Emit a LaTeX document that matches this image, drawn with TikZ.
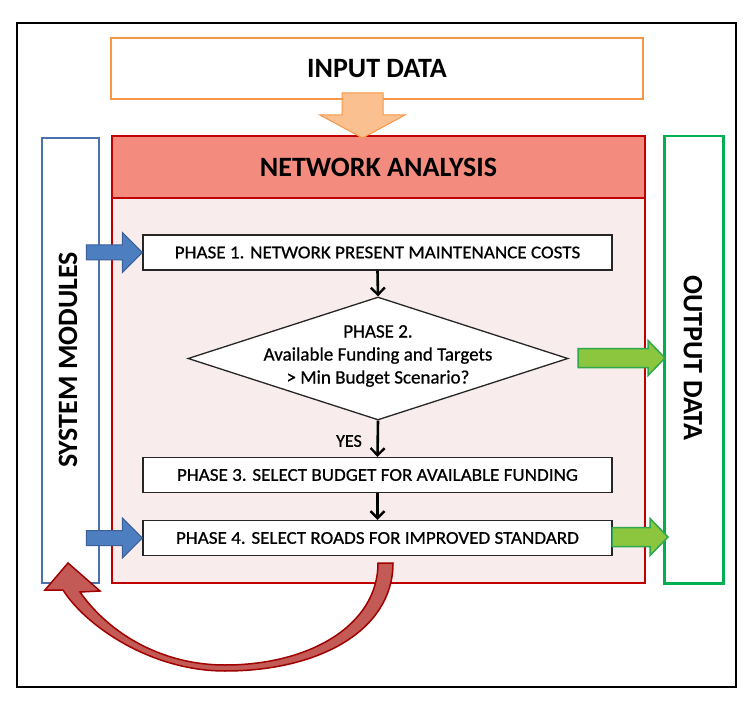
\documentclass[tikz,border=0pt]{standalone}
\usepackage{fontspec}
\setmainfont{Carlito}
\newfontface\semib{Carlito}[FakeBold=0.7]
\usetikzlibrary{shapes.geometric,arrows.meta,calc}
\definecolor{orgB}{HTML}{F79646}
\definecolor{orgF}{HTML}{FAC090}
\definecolor{redB}{HTML}{C00000}
\definecolor{redH}{HTML}{F48B7F}
\definecolor{redL}{HTML}{F8ECEC}
\definecolor{bluB}{HTML}{4A72AE}
\definecolor{bluF}{HTML}{4D7EC0}
\definecolor{bluD}{HTML}{3A5F99}
\definecolor{grnB}{HTML}{00B050}
\definecolor{grnF}{HTML}{8CC63F}
\definecolor{grnD}{HTML}{2EA84A}
\definecolor{arcF}{HTML}{C45A55}
\definecolor{arcB}{HTML}{A00000}
\newcommand\blockR[6]{\draw[#1, shift={#2}] (0,0) -- (-#4,-#6) -- (-#4,-#5) -- (-#3,-#5) -- (-#3,#5) -- (-#4,#5) -- (-#4,#6) -- cycle;}
\begin{document}
\begin{tikzpicture}[x=1pt,y=-1pt,
  phasebox/.style={draw=black!85, line width=1.3pt, fill=white, minimum width=469pt, minimum height=35pt, inner sep=0pt, font=\semib\fontsize{18}{21}\selectfont},
  headtxt/.style={font=\bfseries\fontsize{28}{32}\selectfont, inner sep=0pt},
  arr/.style={draw=black, line width=2.6pt, -{Straight Barb[length=7pt,width=14pt,line width=2.4pt]}},
  bluearrow/.style={fill=bluF, draw=bluD, line width=1pt, line join=miter},
  greenarrow/.style={fill=grnF, draw=grnD, line width=1.5pt, line join=miter},
  orangearrow/.style={fill=orgF, draw=orgB, line width=1pt, line join=miter},
  curvedarrow/.style={fill=arcF, draw=arcB, line width=1.5pt, line join=miter}
]
\useasboundingbox (0,0) rectangle (756,706);
\fill[white] (0,0) rectangle (756,706);
\draw[black, line width=1.5pt] (17,23) rectangle (736,687);

% input
\node[draw=orgB, line width=2.5pt, fill=white, minimum width=532pt, minimum height=61pt, inner sep=0pt, headtxt] (inp) at (377,68.5) {INPUT DATA};

% side boxes
\node[draw=bluB, line width=2pt, fill=white, minimum width=57pt, minimum height=445pt, inner sep=0pt, anchor=north west] (sm) at (41,137) {};
\node[headtxt, rotate=90] (smt) at (68,360) {SYSTEM MODULES};
\node[draw=grnB, line width=2.5pt, fill=white, minimum width=59pt, minimum height=447pt, inner sep=0pt, anchor=north west] (od) at (663,135) {};
\node[headtxt, rotate=-90] (odt) at (693,358) {OUTPUT DATA};

% network analysis
\node[draw=redB, line width=2pt, fill=redL, minimum width=533pt, minimum height=447pt, inner sep=0pt, anchor=north west] (net) at (111,135) {};
\node[draw=redB, line width=2pt, fill=redH, minimum width=533pt, minimum height=62pt, inner sep=0pt, anchor=north west, headtxt] (neth) at (111,135) {NETWORK ANALYSIS};

% orange arrow
\coordinate (otip) at (362.5,138);
\draw[orangearrow, shift={(otip)}] (0,0) -- (-42.5,-23) -- (-20.5,-23) -- (-20.5,-45) -- (20.5,-45) -- (20.5,-23) -- (42.5,-23) -- cycle;

% phases
\node[phasebox] (p1) at (377.5,252.5) {\scalebox{1.06}[1]{PHASE 1. NETWORK PRESENT MAINTENANCE COSTS}};
\node[draw=black!85, line width=1.3pt, fill=white, shape=diamond, minimum width=380pt, minimum height=123pt, inner sep=0pt] (d) at (378,358.5) {};
\node[align=center, font=\semib\fontsize{19}{23}\selectfont, inner sep=0pt] (dt) at (378,356) {PHASE 2.\\Available Funding and Targets\\> Min Budget Scenario?};
\node[phasebox] (p3) at (377.5,475) {\scalebox{1.06}[1]{PHASE 3. SELECT BUDGET FOR AVAILABLE FUNDING}};
\node[phasebox] (p4) at (377.5,538) {\scalebox{1.06}[1]{PHASE 4. SELECT ROADS FOR IMPROVED STANDARD}};

\draw[arr] (p1.south) -- (d.north);
\draw[arr] (d.south) -- (p3.north);
\node[font=\semib\fontsize{18}{20}\selectfont, inner sep=0pt] (yes) at (349,441) {YES};
\draw[arr] (p3.south) -- (p4.north);

% blue arrows
\blockR{bluearrow}{(p1.west)}{56}{20}{7.5}{20}
\blockR{bluearrow}{(p4.west)}{56}{20}{7.5}{20}

% green arrows
\coordinate (g1) at (665,358);
\coordinate (g2) at (668,537);
\blockR{greenarrow}{(g1)}{87}{17}{9.5}{17.5}
\blockR{greenarrow}{(g2)}{56}{18}{9.5}{18.5}

% curved feedback arrow
\draw[curvedarrow] (378,563) -- (393,563)
  .. controls (393,630) and (320,671) .. (225,671)
  .. controls (150,671) and (85,625) .. (63,590)
  -- (45,590) -- (68,563) -- (100,591) -- (80,592)
  .. controls (108,632) and (160,665) .. (225,665)
  .. controls (310,665) and (378,625) .. (378,563) -- cycle;
\end{tikzpicture}
\end{document}
